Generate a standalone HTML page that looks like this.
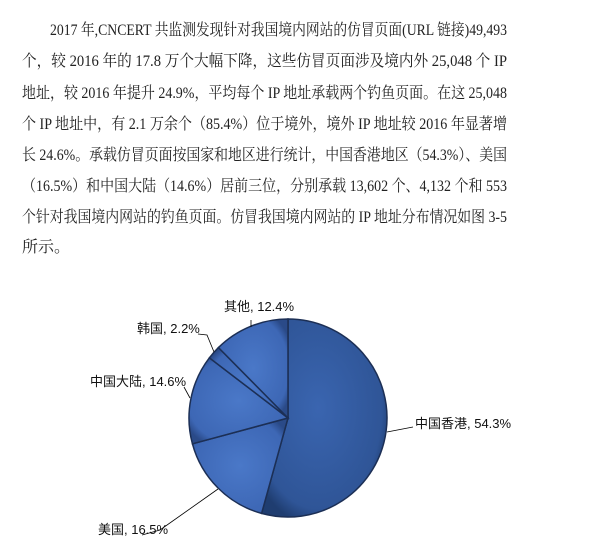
<!DOCTYPE html>
<html><head><meta charset="utf-8"><style>
body{margin:0;width:597px;height:544px;background:#fff;overflow:hidden;position:relative}
.p{position:absolute;left:22px;font-family:"Liberation Serif","Noto Serif CJK SC",serif;font-size:16px;color:#222;white-space:nowrap;line-height:20px;transform-origin:0 0;display:inline-block}
svg{position:absolute;left:0;top:0}
</style></head><body>
<div>
<div class="p" data-w="457" style="top:21px;left:50px">2017 年,CNCERT 共监测发现针对我国境内网站的仿冒页面(URL 链接)49,493</div>
<div class="p" data-w="485" style="top:52px">个，较 2016 年的 17.8 万个大幅下降，这些仿冒页面涉及境内外 25,048 个 IP</div>
<div class="p" data-w="485" style="top:84px">地址，较 2016 年提升 24.9%，平均每个 IP 地址承载两个钓鱼页面。在这 25,048</div>
<div class="p" data-w="485" style="top:115px">个 IP 地址中，有 2.1 万余个（85.4%）位于境外，境外 IP 地址较 2016 年显著增</div>
<div class="p" data-w="485" style="top:146px">长 24.6%。承载仿冒页面按国家和地区进行统计，中国香港地区（54.3%）、美国</div>
<div class="p" data-w="485" style="top:177px">（16.5%）和中国大陆（14.6%）居前三位，分别承载 13,602 个、4,132 个和 553</div>
<div class="p" data-w="485" style="top:208px">个针对我国境内网站的钓鱼页面。仿冒我国境内网站的 IP 地址分布情况如图 3-5</div>
<div class="p" style="top:238px">所示。</div>
</div>
<svg id="chart" width="597" height="544">
<defs><radialGradient id="g1" cx="0.45" cy="0.45" r="0.6"><stop offset="0" stop-color="#3a65b0"/><stop offset="0.85" stop-color="#2f5597"/><stop offset="1" stop-color="#1f3d70"/></radialGradient>
<radialGradient id="g2" cx="0.5" cy="0.5" r="0.6"><stop offset="0" stop-color="#4a78c8"/><stop offset="0.85" stop-color="#3d67b5"/><stop offset="1" stop-color="#2a4a88"/></radialGradient></defs>
</svg>
<script>
document.querySelectorAll('.p[data-w]').forEach(el=>{
 const w=el.getBoundingClientRect().width;
 el.style.transform='scaleX('+(+el.dataset.w/w)+')';
});
const categories=["中国香港","美国","中国大陆","韩国","其他"];
const values=[54.3,16.5,14.6,2.2,12.4];
const labelPos=[[415,428],[98,534],[90,386],[137,333],[224,311]];
const leaders=[[[387,432],[413,427]],[[218,489],[160,530],[142,535]],[[190,398],[184,387]],[[214,352],[207,335],[198,334]],[[251,327],[251,320]]];
const svg=document.getElementById('chart');const NS='http://www.w3.org/2000/svg';
const cx=288,cy=418,r=99;const total=values.reduce((a,b)=>a+b,0);
let a0=-Math.PI/2;
values.forEach((v,i)=>{
 const a1=a0+v/total*2*Math.PI;
 const p=document.createElementNS(NS,'path');
 const x0=cx+r*Math.cos(a0),y0=cy+r*Math.sin(a0),x1=cx+r*Math.cos(a1),y1=cy+r*Math.sin(a1);
 p.setAttribute('d',`M${cx},${cy}L${x0},${y0}A${r},${r} 0 ${a1-a0>Math.PI?1:0} 1 ${x1},${y1}Z`);
 p.setAttribute('fill',i==0?'url(#g1)':'url(#g2)');
 p.setAttribute('stroke','#1c2f55');p.setAttribute('stroke-width','1.5');
 
 
 svg.appendChild(p);
 const l=document.createElementNS(NS,'polyline');
 l.setAttribute('points',leaders[i].map(q=>q.join(',')).join(' '));
 l.setAttribute('fill','none');l.setAttribute('stroke','#000');l.setAttribute('stroke-width','0.8');
 
 
 svg.appendChild(l);
 const t=document.createElementNS(NS,'text');
 t.setAttribute('x',labelPos[i][0]);t.setAttribute('y',labelPos[i][1]);
 t.setAttribute('font-family','"Liberation Sans","Noto Sans CJK SC",sans-serif');t.setAttribute('font-size','13');t.setAttribute('fill','#111');
 t.textContent=categories[i]+', '+values[i].toFixed(1)+'%';
 
 
 svg.appendChild(t);
 a0=a1;
});
</script>
</body></html>
